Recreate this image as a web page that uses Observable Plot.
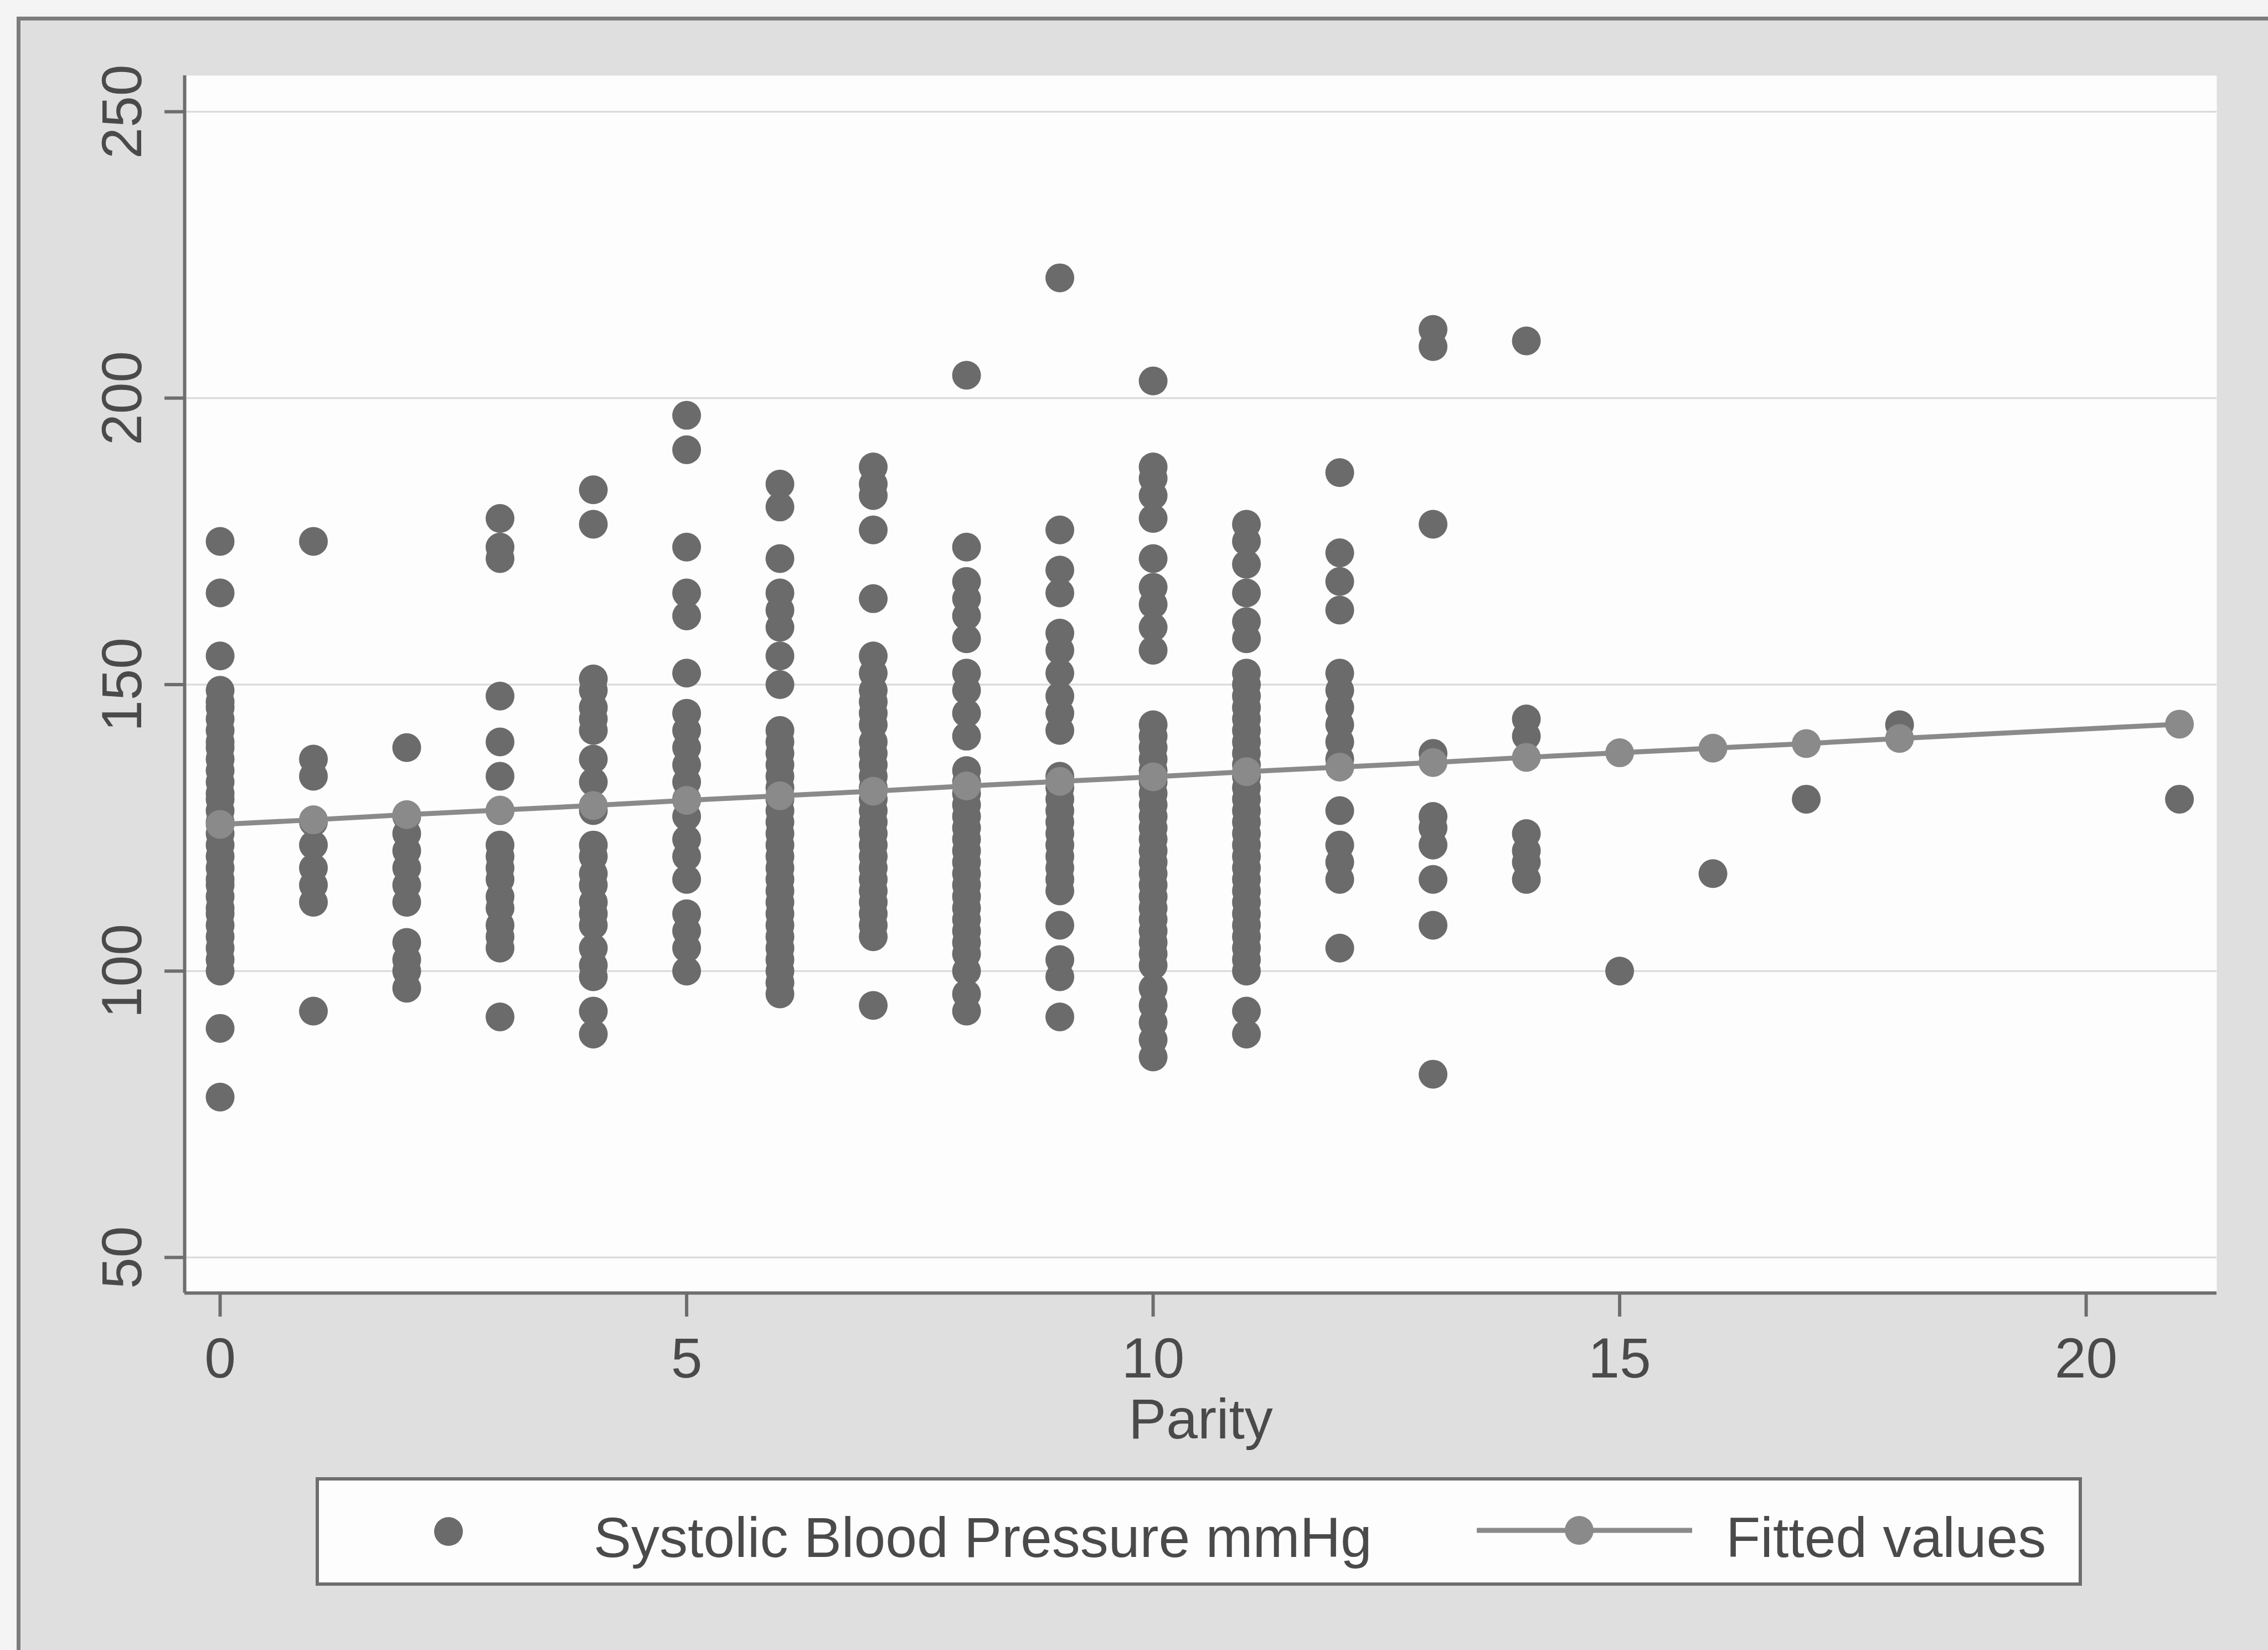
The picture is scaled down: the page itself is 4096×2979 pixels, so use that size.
<!DOCTYPE html>
<html>
<head>
<meta charset="utf-8">
<script src="https://cdn.jsdelivr.net/npm/d3@7"></script>
<script src="https://cdn.jsdelivr.net/npm/@observablehq/plot@0.6"></script>
<style>
  html, body { margin: 0; padding: 0; background: #f4f4f4; overflow: hidden; }
  #page { position: relative; width: 4096px; height: 2979px; overflow: hidden;
          font-family: "Liberation Sans", Arial, Helvetica, sans-serif; }
  #panel { position: absolute; left: 30px; top: 30px; width: 4200px; height: 3100px;
           background: #dfdfdf; border-left: 7px solid #7c7c7c; border-top: 7px solid #7c7c7c; }
  #chart { position: absolute; left: 0; top: 0; }
  #legend { position: absolute; left: 570px; top: 2667px; }
</style>
</head>
<body>
<div id="page">
  <div id="panel"></div>
  <div id="chart"></div>
  <div id="legend"></div>
</div>
<script>
// Systolic blood pressure (mmHg) readings grouped by parity
const sbpParity0  = [175, 166, 155, 149, 147, 146, 144, 142, 140, 139, 137, 135, 133, 131, 130, 128, 126, 124, 122, 120, 118, 116, 115, 113, 111, 110, 108, 106, 104, 102, 100, 90, 78];
const sbpParity1  = [175, 137, 134, 126, 122, 118, 115, 112, 93];
const sbpParity2  = [139, 127, 124, 121, 118, 115, 112, 105, 102, 100, 97];
const sbpParity3  = [179, 174, 172, 148, 140, 134, 128, 122, 120, 118, 116, 113, 111, 108, 106, 104, 92];
const sbpParity4  = [184, 178, 151, 149, 146, 144, 142, 137, 133, 128, 122, 120, 117, 115, 112, 110, 108, 104, 101, 99, 93, 89];
const sbpParity5  = [197, 191, 174, 166, 162, 152, 145, 142, 139, 136, 133, 130, 127, 123, 120, 116, 110, 107, 104, 100];
const sbpParity6  = [185, 181, 172, 166, 163, 160, 155, 150, 142, 140, 138, 136, 134, 132, 130, 128, 126, 124, 122, 120, 118, 116, 114, 112, 110, 108, 106, 104, 102, 100, 98, 96];
const sbpParity7  = [188, 185, 183, 177, 165, 155, 152, 149, 147, 145, 143, 140, 138, 136, 134, 132, 130, 128, 126, 124, 122, 120, 118, 116, 114, 112, 110, 108, 106, 94];
const sbpParity8  = [204, 174, 168, 165, 162, 158, 152, 149, 145, 141, 135, 133, 131, 129, 127, 125, 123, 121, 119, 117, 115, 113, 111, 109, 107, 105, 103, 100, 96, 93];
const sbpParity9  = [221, 177, 170, 166, 159, 156, 152, 148, 145, 142, 134, 132, 130, 128, 126, 124, 122, 120, 118, 116, 114, 108, 102, 99, 92];
const sbpParity10 = [203, 188, 186, 183, 179, 172, 167, 164, 160, 156, 143, 141, 139, 137, 135, 133, 131, 129, 127, 125, 123, 121, 119, 117, 115, 113, 111, 109, 107, 105, 103, 101, 97, 94, 91, 88, 85];
const sbpParity11 = [178, 175, 171, 166, 161, 158, 152, 150, 148, 146, 144, 142, 140, 138, 136, 134, 132, 130, 128, 126, 124, 122, 120, 118, 116, 114, 112, 110, 108, 106, 104, 102, 100, 93, 89];
const sbpParity12 = [187, 173, 168, 163, 152, 149, 146, 143, 140, 137, 128, 122, 119, 116, 104];
const sbpParity13 = [212, 209, 178, 138, 127, 125, 122, 116, 108, 82];
const sbpParity14 = [210, 144, 141, 124, 121, 119, 116];
const sbpParity15 = [100];
const sbpParity16 = [117];
const sbpParity17 = [130];
const sbpParity18 = [143];
const sbpParity21 = [130];

// Parity levels present in the sample, and the readings at each level
const parityLevels = [0, 1, 2, 3, 4, 5, 6, 7, 8, 9, 10, 11, 12, 13, 14, 15, 16, 17, 18, 21];
const readings = [sbpParity0, sbpParity1, sbpParity2, sbpParity3, sbpParity4, sbpParity5, sbpParity6,
                  sbpParity7, sbpParity8, sbpParity9, sbpParity10, sbpParity11, sbpParity12, sbpParity13,
                  sbpParity14, sbpParity15, sbpParity16, sbpParity17, sbpParity18, sbpParity21];

// Linear fit of SBP on parity, evaluated at each parity level
const fittedValues = [125.6, 126.4, 127.3, 128.1, 128.9, 129.8, 130.6, 131.4, 132.3, 133.1,
                      133.9, 134.8, 135.6, 136.4, 137.3, 138.1, 138.9, 139.7, 140.6, 143.1];

// Axis ticks and scale extents
const xTicks = [0, 5, 10, 15, 20];
const yTicks = [50, 100, 150, 200, 250];
const xDomain = [-0.38, 21.4];
const yDomain = [43.8, 256.3];

const observations = parityLevels.flatMap((p, i) => readings[i].map(v => ({parity: p, sbp: v})));
const fitted = parityLevels.map((p, i) => ({parity: p, sbp: fittedValues[i]}));

const FONT = '"Liberation Sans", Arial, Helvetica, sans-serif';
const TEXT = "#4a4a4a";
const AXIS = "#6e6e6e";
const DOT = "#6b6b6b";
const FIT = "#8a8a8a";

const chart = Plot.plot({
  width: 4096,
  height: 2640,
  marginLeft: 333,
  marginRight: 93,
  marginTop: 136,
  marginBottom: 306,
  style: {background: "transparent", fontFamily: FONT, overflow: "visible"},
  x: {domain: xDomain},
  y: {domain: yDomain},
  marks: [
    Plot.frame({fill: "#fdfdfd", stroke: "none"}),
    Plot.ruleY(yTicks, {stroke: "#d8d8d8", strokeWidth: 3}),
    Plot.dot(observations, {x: "parity", y: "sbp", r: 26, fill: DOT, stroke: "none"}),
    Plot.line(fitted, {x: "parity", y: "sbp", stroke: FIT, strokeWidth: 9}),
    Plot.dot(fitted, {x: "parity", y: "sbp", r: 26, fill: FIT, stroke: "none"}),
    Plot.ruleX([xDomain[0]], {stroke: AXIS, strokeWidth: 6}),
    Plot.ruleY([yDomain[0]], {stroke: AXIS, strokeWidth: 6}),
    Plot.axisY({ticks: yTicks, tickSize: 36, tickPadding: 43, tickRotate: -90,
                fontSize: 102, stroke: AXIS, strokeWidth: 6, fill: TEXT, label: null}),
    Plot.axisX({ticks: xTicks, tickSize: 43, tickPadding: 37,
                fontSize: 102, stroke: AXIS, strokeWidth: 6, fill: TEXT, label: null}),
    Plot.text(["Parity"], {text: d => d, frameAnchor: "bottom", dy: 262, lineAnchor: "bottom",
                           fontSize: 102, fill: TEXT})
  ]
});
document.getElementById("chart").appendChild(chart);

// Legend box below the chart
const legend = d3.create("svg")
  .attr("width", 3190)
  .attr("height", 196)
  .style("font-family", FONT);
legend.append("rect")
  .attr("x", 3).attr("y", 3).attr("width", 3184).attr("height", 190)
  .attr("fill", "#fdfdfd").attr("stroke", "#6e6e6e").attr("stroke-width", 6);
legend.append("circle")
  .attr("cx", 240).attr("cy", 98).attr("r", 26).attr("fill", DOT);
legend.append("text")
  .attr("x", 502).attr("y", 144).attr("font-size", 102).attr("fill", TEXT)
  .text("Systolic Blood Pressure mmHg");
legend.append("line")
  .attr("x1", 2097).attr("x2", 2486).attr("y1", 96).attr("y2", 96)
  .attr("stroke", FIT).attr("stroke-width", 9);
legend.append("circle")
  .attr("cx", 2282).attr("cy", 96).attr("r", 26).attr("fill", FIT);
legend.append("text")
  .attr("x", 2547).attr("y", 144).attr("font-size", 102).attr("fill", TEXT)
  .text("Fitted values");
document.getElementById("legend").appendChild(legend.node());
</script>
</body>
</html>
